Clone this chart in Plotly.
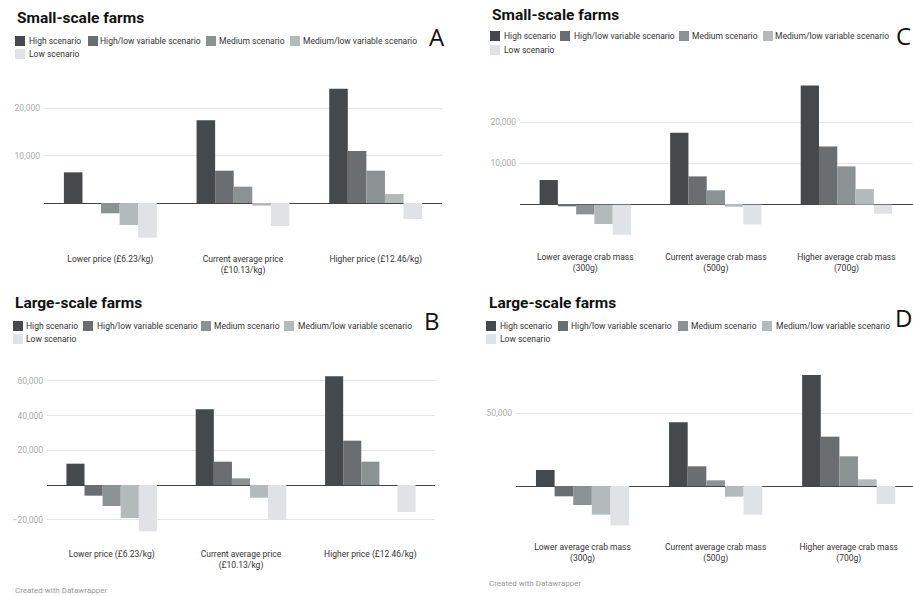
import plotly.graph_objects as go

# ---------------- data ----------------
series_names = ["High scenario", "High/low variable scenario", "Medium scenario",
                "Medium/low variable scenario", "Low scenario"]

price_categories = ["Lower price (£6.23/kg)", "Current average price (£10.13/kg)",
                    "Higher price (£12.46/kg)"]
price_tick_labels = ["Lower price (£6.23/kg)", "Current average price<br>(£10.13/kg)",
                     "Higher price (£12.46/kg)"]

mass_categories = ["Lower average crab mass (300g)", "Current average crab mass (500g)",
                   "Higher average crab mass (700g)"]
mass_tick_labels = ["Lower average crab mass<br>(300g)", "Current average crab mass<br>(500g)",
                    "Higher average crab mass<br>(700g)"]

# Panel A: small-scale farms, price
a_high = [6480, 17460, 24150]
a_high_low = [0, 6830, 10990]
a_medium = [-2180, 3450, 6830]
a_medium_low = [-4650, -560, 1900]
a_low = [-7320, -4860, -3380]

# Panel B: large-scale farms, price
b_high = [12300, 43650, 62690]
b_high_low = [-6150, 13460, 25580]
b_medium = [-12100, 3850, 13460]
b_medium_low = [-19040, -7310, 0]
b_low = [-26730, -20000, -15580]

# Panel C: small-scale farms, crab mass
c_high = [5970, 17420, 28870]
c_high_low = [-400, 6850, 14110]
c_medium = [-2340, 3470, 9270]
c_medium_low = [-4680, -480, 3790]
c_low = [-7260, -4760, -2180]

# Panel D: large-scale farms, crab mass
d_high = [11010, 43810, 76380]
d_high_low = [-7110, 13530, 33940]
d_medium = [-13070, 3900, 20410]
d_medium_low = [-19720, -7340, 4590]
d_low = [-27060, -19720, -12390]

a_ticks = [10000, 20000]
b_ticks = [-20000, 20000, 40000, 60000]
c_ticks = [10000, 20000]
d_ticks = [50000]

# ---------------- styling ----------------
W, H = 913, 596
colors = ["#45494b", "#6b6e71", "#8c9292", "#b4b9b9", "#e0e2e6"]
FONT = "Roboto"
SMALL = 8.5


def px_x(x):
    return x / W


def px_y(y):
    return 1 - y / H


fig = go.Figure()

panels = [
    # suffix, categories, ticklabels, values, ticks, x0, x1, ytop, ybot, zero_px, px_per_unit, xrange
    ("", price_categories, price_tick_labels,
     [a_high, a_high_low, a_medium, a_medium_low, a_low], a_ticks,
     44, 442, 80, 252, 203.0, 47.33 / 10000, [-0.5, 2.5]),
    ("2", mass_categories, mass_tick_labels,
     [c_high, c_high_low, c_medium, c_medium_low, c_low], c_ticks,
     520, 913, 80, 250, 204.7, 41.33 / 10000, [-0.5, 2.51]),
    ("3", price_categories, price_tick_labels,
     [b_high, b_high_low, b_medium, b_medium_low, b_low], b_ticks,
     47, 435, 365, 547, 485.0, 34.67 / 20000, [-0.5, 2.5]),
    ("4", mass_categories, mass_tick_labels,
     [d_high, d_high_low, d_medium, d_medium_low, d_low], d_ticks,
     516, 913, 365, 540, 486.0, 72.67 / 50000, [-0.5, 2.483]),
]

layout_axes = {}
for suffix, cats, labels, vals, ticks, x0, x1, yt, yb, zero, ppu, xr in panels:
    for name, v, col in zip(series_names, vals, colors):
        fig.add_trace(go.Bar(
            x=cats, y=v, name=name, marker=dict(color=col, line=dict(width=0)),
            xaxis="x" + suffix, yaxis="y" + suffix, showlegend=False,
            hovertemplate="%{x}<br>" + name + ": %{y:,}<extra></extra>",
        ))
    ytop_val = (zero - yt) / ppu
    ybot_val = (zero - yb) / ppu
    layout_axes["xaxis" + suffix] = dict(
        domain=[px_x(x0), px_x(x1)], anchor="y" + suffix, type="category",
        range=xr, showgrid=False, zeroline=False, showline=False, ticks="",
        tickvals=cats, ticktext=labels,
        tickfont=dict(family=FONT, size=SMALL, color="#333333"), fixedrange=True,
    )
    layout_axes["yaxis" + suffix] = dict(
        domain=[px_y(yb), px_y(yt)], anchor="x" + suffix,
        range=[ybot_val, ytop_val], tickvals=ticks, tickformat=",",
        showgrid=True, gridcolor="#e6e6e6", gridwidth=1,
        zeroline=True, zerolinecolor="#444444", zerolinewidth=1,
        showline=False, ticks="", ticklabelstandoff=3,
        tickfont=dict(family=FONT, size=SMALL, color="#aaaaaa"), fixedrange=True,
    )

annotations = []
shapes = []

# titles
titles = [("Small-scale farms", 15, 18), ("Small-scale farms", 490, 15),
          ("Large-scale farms", 13, 303), ("Large-scale farms", 487, 303)]
for text, x, y in titles:
    annotations.append(dict(text="<b>" + text + "</b>", x=px_x(x), y=px_y(y),
                            xref="paper", yref="paper", xanchor="left", yanchor="middle",
                            showarrow=False, font=dict(family=FONT, size=15.5, color="#111111")))

# panel letters
letters = [("A", 437, 36), ("C", 903, 35), ("B", 432, 320), ("D", 903, 318)]
for text, x, y in letters:
    annotations.append(dict(text=text, x=px_x(x), y=px_y(y), xref="paper", yref="paper",
                            xanchor="center", yanchor="middle", showarrow=False,
                            font=dict(family="Open Sans", size=24, color="#111111")))

# legends (square x, text x, row y) for each series per panel
legend_layouts = [
    [(15, 28, 41), (88, 99, 41), (206, 218, 41), (290, 302, 41), (15, 28, 54)],
    [(490, 503, 36), (560, 573, 36), (679, 691, 36), (763, 774, 36), (490, 503, 50)],
    [(13, 25, 326), (83, 96, 326), (201, 213, 326), (284, 297, 326), (13, 25, 339)],
    [(486, 499, 326), (558, 570, 326), (678, 690, 326), (762, 775, 326), (486, 499, 339)],
]
for lay in legend_layouts:
    for (sx, tx, ry), name, col in zip(lay, series_names, colors):
        shapes.append(dict(type="rect", xref="paper", yref="paper",
                           x0=px_x(sx), x1=px_x(sx + 10), y0=px_y(ry + 5), y1=px_y(ry - 5),
                           fillcolor=col, line=dict(width=0)))
        annotations.append(dict(text=name, x=px_x(tx - 1), y=px_y(ry), xref="paper", yref="paper",
                                xanchor="left", yanchor="middle", showarrow=False,
                                font=dict(family=FONT, size=SMALL, color="#333333")))

# footers
for x, y in [(13, 590), (487, 583)]:
    annotations.append(dict(text="Created with Datawrapper", x=px_x(x), y=px_y(y),
                            xref="paper", yref="paper", xanchor="left", yanchor="middle",
                            showarrow=False, font=dict(family=FONT, size=8, color="#999999")))

fig.update_layout(
    width=W, height=H, margin=dict(l=0, r=0, t=0, b=0),
    paper_bgcolor="white", plot_bgcolor="white",
    barmode="group", bargap=0.3, bargroupgap=0,
    showlegend=False, annotations=annotations, shapes=shapes,
    font=dict(family=FONT),
    **layout_axes,
)

fig.write_html("out.html", config={"displayModeBar": False},
               post_script="document.body.style.margin='0';document.body.style.overflow='hidden';")
